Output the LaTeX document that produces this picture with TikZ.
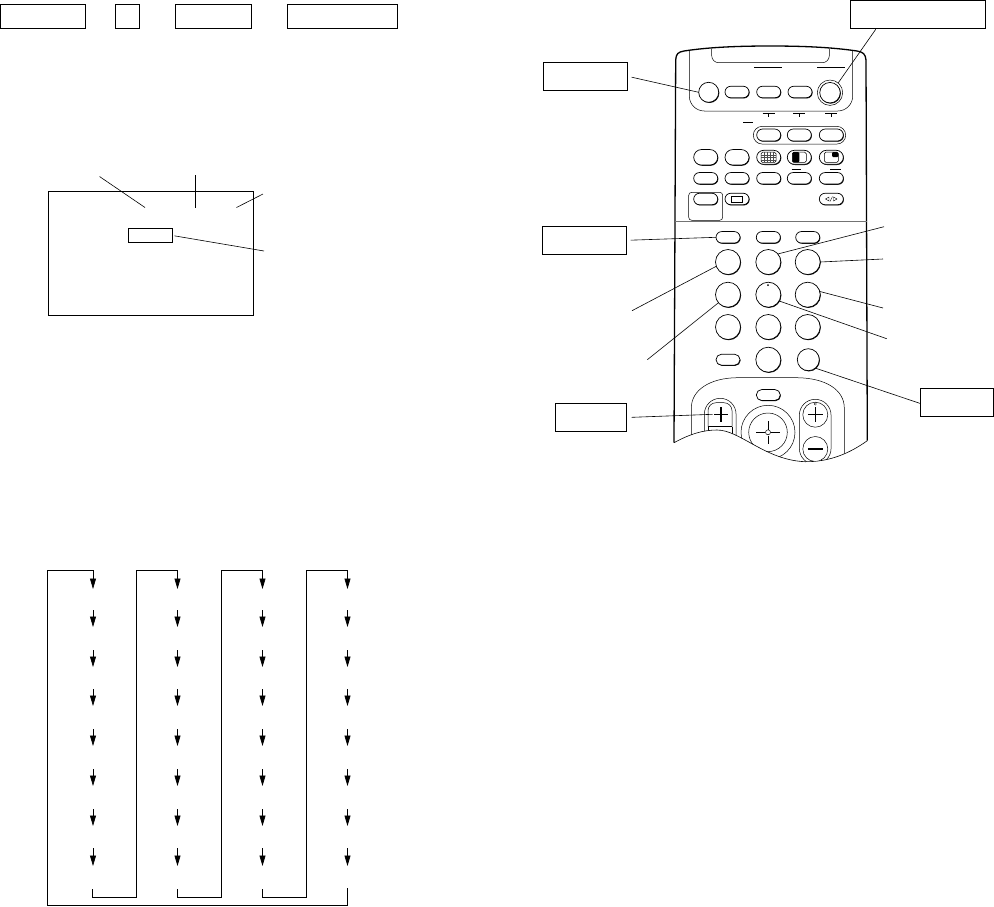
\documentclass[tikz,border=0pt]{standalone}
\usetikzlibrary{arrows.meta,shapes.misc,shadows}
\tikzset{
	labelbox/.style={draw, line width=0.8pt, inner sep=0pt, outer sep=0pt, anchor=north west},
	leader/.style={line width=0.6pt},
	flowline/.style={line width=0.8pt},
	flowarrow/.style={line width=0.7pt, -{Triangle[length=10.5pt,width=6pt]}},
	body/.style={line width=1.3pt},
	trim/.style={line width=0.5pt},
	keybase/.style={draw, fill=white, line width=0.7pt, inner sep=0pt, outer sep=0pt,
		general shadow={fill=black, shadow xshift=0.6pt, shadow yshift=-0.7pt}},
	ovalkey/.style={keybase, rounded rectangle, minimum width=24pt, minimum height=11.5pt},
	tallkey/.style={keybase, rounded rectangle, minimum width=24pt, minimum height=15.5pt},
	roundkey/.style={keybase, circle, minimum size=25pt},
	bar/.style={line width=0.8pt}
}
\begin{document}
\begin{tikzpicture}[x=1pt,y=-1pt]
\useasboundingbox (0,0) rectangle (994,906);

% top row of boxes
\foreach \n/\x/\w in {a/0.5/85, b/115.5/24, c/175.5/76, d/287.5/110}
{
	\node[labelbox, minimum width=\w pt, minimum height=24pt] (box\n) at (\x,4.5) {};
}

% screen
\draw[line width=0.8pt] (48.5,191.5) rectangle (253.5,315.5);
\node[labelbox, minimum width=44pt, minimum height=14pt] (boxs) at (128.5,228.5) {};
\coordinate (sa) at (99.5,176.5);
\coordinate (sb) at (145,207.5);
\coordinate (sc) at (195.5,175);
\coordinate (sd) at (195.5,207.5);
\coordinate (se) at (236.5,207.5);
\coordinate (sf) at (263,194);
\coordinate (sg) at (264,251);
\draw[leader] (sa) -- (sb);
\draw[leader] (sc) -- (sd);
\draw[leader] (se) -- (sf);
\draw[leader, shorten <=2pt] (boxs.east) -- (sg);

% chart
\foreach \x [count=\c] in {93,177.5,262.5,347.5}
{
	\foreach \r/\ya/\yb in {1/570.3/589, 2/610/627, 3/650/667, 4/689/706, 5/729/746, 6/769/786, 7/809/826, 8/848/866}
	{
		\coordinate (s\c\r) at (\x,\ya);
		\coordinate (e\c\r) at (\x,\yb);
		\draw[flowarrow] (s\c\r) -- (e\c\r);
	}
}
\coordinate (d1) at (92.5,889);
\coordinate (d2) at (177.5,889);
\coordinate (d3) at (262.5,889);
\coordinate (d4) at (347.5,888);
\foreach \c/\n/\l in {1/2/136.5, 2/3/221.5, 3/4/306.5}
{
	\draw[flowline] (d\c) |- (\l,897.5) |- (s\n1);
}
\draw[flowline] (d4) |- (47.5,905.3) |- (s11);

% remote outline
\draw[body] (674,442.7) -- (675.7,60) .. controls (676,54) and (678,52) .. (684,51) .. controls (710,47) and (740,46) .. (770,46) .. controls (800,46) and (830,47) .. (857,51) .. controls (863,52) and (865.5,54) .. (866,60) -- (867.3,440.7);
\draw[line width=0.6pt] (674,442.7) .. controls (690,434) and (703,430) .. (717,430) .. controls (740,430) and (765,460) .. (805,461.7) .. controls (830,462) and (850,453) .. (867.3,440.7);
\draw[trim, rounded corners=15pt] (689.3,50) -- (689.3,111) -- (852.7,111) -- (852.7,50);
\draw[trim, rounded corners=7pt] (711.7,49) -- (711.7,62.7) -- (829.3,62.7) -- (829.3,49);
\draw[line width=0.6pt, black!55] (674.5,221) -- (867,221);
\draw[trim, rounded corners=3pt] (688.7,192.3) rectangle (722.7,220.3);

% small bars
\foreach \xa/\xb/\y in {754/782/67, 817.3/845/67, 743.3/752.7/122.3, 791.7/801/169.3, 830/840.7/169.3}
{
	\draw[bar] (\xa,\y) -- (\xb,\y);
}
\foreach \x in {768.7,799.3,831.3}
{
	\draw[trim] (\x-6,113) -- (\x+6,113);
	\draw[trim] (\x,113) -- (\x,117.3);
}

% keys at the top
\node[roundkey, minimum size=20pt] (keyp) at (708.7,92.3) {};
\foreach \n/\x in {1/737, 2/768.7, 3/800}
{
	\node[ovalkey] (keyq\n) at (\x,92) {};
}
\node[circle, draw, trim, minimum size=25.4pt, inner sep=0pt, outer sep=0pt] (keyr) at (830,92.7) {};
\node[roundkey, minimum size=20.5pt] at (830,92.7) {};

\node[draw, trim, rounded rectangle, minimum width=92.4pt, minimum height=17.7pt, inner sep=0pt] (keygrp) at (799.5,135.2) {};
\foreach \n/\x in {1/768.7, 2/799.3, 3/831.3}
{
	\node[ovalkey, minimum height=12pt] (keyg\n) at (\x,135) {};
	\node[ovalkey, minimum height=14pt] (keyi\n) at (\x,157.3) {};
}
\foreach \n/\x in {1/705.7, 2/737}
{
	\node[tallkey] (keyt\n) at (\x,157.3) {};
}
\foreach \n/\x in {1/705.7, 2/737, 3/768.7, 4/799.3, 5/831.3}
{
	\node[ovalkey] (keyu\n) at (\x,178.3) {};
}
\node[ovalkey] (keyv1) at (705.7,199) {};
\node[ovalkey] (keyv2) at (737,199) {};
\node[ovalkey] (keyv3) at (831.3,199) {};
\draw[trim] (731,196.7) rectangle (742.7,202.3);

% key symbols
\draw[trim, rounded corners=1.5pt] (761,152.2) rectangle (776,162.4);
\foreach \x in {764,767,770,773}
{
	\draw[line width=0.3pt, black!70] (\x,152.2) -- (\x,162.4);
}
\foreach \y in {155,157.3,159.7}
{
	\draw[line width=0.3pt, black!70] (761,\y) -- (776,\y);
}
\draw[trim, rounded corners=1.5pt] (792.3,152.2) rectangle (806.3,162.4);
\fill[rounded corners=1pt] (792.3,152.2) rectangle (799.3,162.4);
\draw[trim, rounded corners=1.5pt] (824.3,152.2) rectangle (838.3,162.4);
\fill[rounded corners=1pt] (832,152.2) rectangle (838.3,157);
\draw[line width=0.4pt] (825.5,199) -- (829,197) -- (829,201) -- cycle;
\draw[line width=0.4pt] (837,199) -- (833.5,197) -- (833.5,201) -- cycle;
\draw[line width=0.4pt] (830,201.5) -- (832.5,196.5);

% number keys
\foreach \n/\x in {a/728, b/768.3, c/807.7}
{
	\node[ovalkey] (keyw\n) at (\x,237.3) {};
	\node[roundkey] (key\n1) at (\x,262) {};
	\node[roundkey] (key\n2) at (\x,294.7) {};
	\node[roundkey] (key\n3) at (\x,327) {};
}
\fill (768,285) circle (1);
\node[ovalkey, minimum height=11pt] (keyx1) at (728,359.7) {};
\node[roundkey] (keyx2) at (768.3,359.7) {};
\node[roundkey, minimum size=22pt] (keyx3) at (808.3,359.7) {};

% lower panel
\begin{scope}
\clip (674,370) -- (674,442.7) .. controls (690,434) and (703,430) .. (717,430) .. controls (740,430) and (765,460) .. (805,461.7) .. controls (830,462) and (850,453) .. (867.3,440.7) -- (867.3,370) -- cycle;
\draw[trim] (691.3,445) -- (691.3,408) .. controls (691.3,390) and (710,378) .. (737,377.7) -- (797,377.7) .. controls (826,378) and (844.3,390) .. (844.3,408) -- (844.3,460);
\node[draw, trim, rounded rectangle, rotate=90, minimum width=72pt, minimum height=31.7pt, inner sep=0pt] (rockl) at (720.2,434.3) {};
\node[draw, trim, rounded rectangle, rotate=90, minimum width=65pt, minimum height=31.7pt, inner sep=0pt] (rockr) at (815.2,431.8) {};
\node[circle, draw, trim, minimum size=54pt, inner sep=0pt] (jogo) at (768,432.3) {};
\node[circle, draw, trim, minimum size=38.6pt, inner sep=0pt] (jogi) at (768,432.3) {};
\node[circle, draw, trim, minimum size=5pt, inner sep=0pt] (jogc) at (768,432.3) {};
\draw[trim, rounded corners=8pt] (708,426.7) -- (708,402.7) -- (732,402.7) -- (732,426.7);
\draw[line width=0.8pt] (708.3,426.7) -- (732.3,426.7);
\draw[trim] (708.3,426.7) -- (708.3,434);
\draw[trim] (732.3,426.7) -- (732.3,434);
\node[circle, draw, trim, fill=white, minimum size=25pt, inner sep=0pt] (keyplus) at (815.3,414.7) {};
\node[circle, draw, trim, fill=white, minimum size=25pt, inner sep=0pt] (keyminus) at (815.3,449) {};
\end{scope}
\node[ovalkey, minimum height=11pt] (keyy) at (768.3,395) {};
\coordinate (keyvol) at (712.7,414.3);
\draw[line width=1.3pt] (714,414.3) -- (728,414.3);
\draw[line width=1.3pt] (721,407) -- (721,421.5);
\draw[line width=1.3pt] (807.8,414.7) -- (822.8,414.7);
\draw[line width=1.3pt] (815.3,407.2) -- (815.3,422.2);
\draw[line width=1.3pt] (807.8,449) -- (822.8,449);
\draw[line width=0.8pt] (756,432.3) -- (765,432.3);
\draw[line width=0.8pt] (771,432.3) -- (780,432.3);
\draw[line width=0.8pt] (768,421) -- (768,429.5);
\draw[line width=0.8pt] (768,435.5) -- (768,443.5);
\draw[line width=0.3pt] (815.3,404) circle (1.2);

% boxes at the remote
\node[labelbox, minimum width=135pt, minimum height=28pt] (boxe) at (850.3,0.5) {};
\node[labelbox, minimum width=84.4pt, minimum height=28pt] (boxf) at (543.3,62.3) {};
\node[labelbox, minimum width=84.4pt, minimum height=28pt] (boxg) at (542.3,226.3) {};
\node[labelbox, minimum width=71.4pt, minimum height=28.4pt] (boxh) at (555.3,403.3) {};
\node[labelbox, minimum width=73pt, minimum height=28.4pt] (boxi) at (920.3,388.3) {};

% leaders of the remote
\coordinate (la) at (884,226.7);
\coordinate (lb) at (883,259);
\coordinate (lc) at (883,308);
\coordinate (ld) at (886.7,338.7);
\coordinate (le) at (632,310.7);
\coordinate (lf) at (647.3,359.7);
\draw[leader, shorten <=1pt] (boxe.south west) ++(26,0) -- (keyr.50);
\draw[leader, shorten <=4pt] (boxf.east) -- (keyp.west);
\draw[leader, shorten <=4pt] (boxg.east) -- (keywa.west);
\draw[leader, shorten <=5pt] (boxh.east) -- (keyvol);
\draw[leader] (boxi.west) ++(0,1) -- (keyx3.-50);
\draw[leader] (la) -- (keyb1.40);
\draw[leader] (lb) -- (keyc1.east);
\draw[leader] (lc) -- (keyc2.15);
\draw[leader] (ld) -- (keyb2.-30);
\draw[leader] (le) -- (keya1.200);
\draw[leader] (lf) -- (keya2.220);
\end{tikzpicture}
\end{document}
